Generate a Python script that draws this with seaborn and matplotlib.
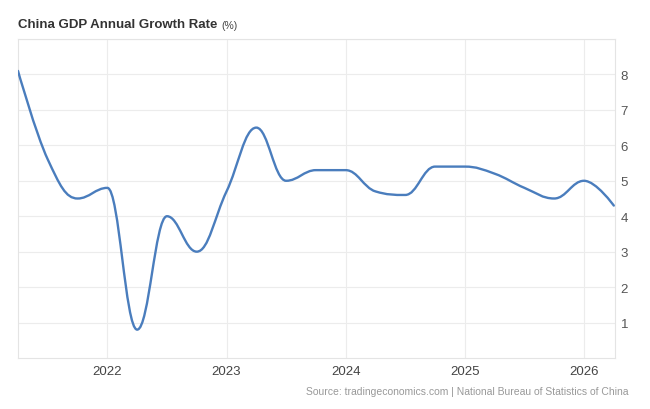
import numpy as np
import pandas as pd
import matplotlib
matplotlib.use('Agg')
import matplotlib.pyplot as plt
import seaborn as sns
from matplotlib.path import Path
from matplotlib.patches import PathPatch

# quarterly readings
quarters = ['2021Q2', '2021Q3', '2021Q4',
            '2022Q1', '2022Q2', '2022Q3', '2022Q4',
            '2023Q1', '2023Q2', '2023Q3', '2023Q4',
            '2024Q1', '2024Q2', '2024Q3', '2024Q4',
            '2025Q1', '2025Q2', '2025Q3', '2025Q4',
            '2026Q1', '2026Q2']
growth = [8.1, 5.6, 4.5,
          4.8, 0.8, 4.0, 3.0,
          4.7, 6.5, 5.0, 5.3,
          5.3, 4.7, 4.6, 5.4,
          5.4, 5.2, 4.8, 4.5,
          5.0, 4.3]
year_ticks = [2022, 2023, 2024, 2025, 2026]
value_ticks = [1, 2, 3, 4, 5, 6, 7, 8]

title = 'China GDP Annual Growth Rate'
unit = '(%)'
source = 'Source: tradingeconomics.com | National Bureau of Statistics of China'

df = pd.DataFrame({'quarter': quarters, 'growth': growth})
df['t'] = df.quarter.str[:4].astype(int) + (df.quarter.str[-1].astype(int) - 1) / 4


def spline_path(xs, ys, smoothing=1.5):
    # highcharts-like spline: bezier control points, no false extremes
    n = len(xs)
    verts = [(xs[0], ys[0])]
    codes = [Path.MOVETO]
    right_c = [None] * n
    denom = smoothing + 1
    for i in range(1, n):
        x, y = xs[i], ys[i]
        lx, ly = xs[i - 1], ys[i - 1]
        lcx, lcy = x, y
        if i < n - 1:
            nx, ny = xs[i + 1], ys[i + 1]
            lcx = (smoothing * x + lx) / denom
            lcy = (smoothing * y + ly) / denom
            rcx = (smoothing * x + nx) / denom
            rcy = (smoothing * y + ny) / denom
            corr = (rcy - lcy) * (rcx - x) / (rcx - lcx) + y - rcy
            lcy += corr
            rcy += corr
            if lcy > ly and lcy > y:
                lcy = max(ly, y)
                rcy = 2 * y - lcy
            elif lcy < ly and lcy < y:
                lcy = min(ly, y)
                rcy = 2 * y - lcy
            if rcy > ny and rcy > y:
                rcy = max(ny, y)
                lcy = 2 * y - rcy
            elif rcy < ny and rcy < y:
                rcy = min(ny, y)
                lcy = 2 * y - rcy
            right_c[i] = (rcx, rcy)
        prev_c = right_c[i - 1] if right_c[i - 1] is not None else (lx, ly)
        verts += [prev_c, (lcx, lcy), (x, y)]
        codes += [Path.CURVE4] * 3
    return Path(verts, codes)


sns.set_theme(style='white')
plt.rcParams['font.family'] = ['Liberation Sans', 'DejaVu Sans']

fig = plt.figure(figsize=(6.5, 4.1), dpi=100)
ax = fig.add_axes([18 / 650, 1 - 359 / 410, (615 - 18) / 650, (359 - 40) / 410])

path = spline_path(df.t.values, df.growth.values)
ax.add_patch(PathPatch(path, facecolor='none', edgecolor='#4a7dbd', lw=1.7,
                       capstyle='round', joinstyle='round', zorder=3))

ax.set_xlim(2021.25, 2026.26)
ax.set_ylim(0, 9)
ax.set_xticks(year_ticks)
ax.set_xticklabels([str(y) for y in year_ticks])
ax.set_yticks(value_ticks + [9])
ax.set_yticklabels([str(v) for v in value_ticks] + [''])
ax.yaxis.tick_right()
ax.tick_params(axis='x', length=0, pad=5, labelsize=9.5, labelcolor='#444444')
ax.tick_params(axis='y', length=0, pad=4, labelsize=9.5, labelcolor='#555555')
ax.grid(True, color='#ececec', lw=0.8)
ax.set_xlabel('')
ax.set_ylabel('')
for side, sp in ax.spines.items():
    sp.set_color('#e4e4e4')
    sp.set_linewidth(0.8)

t = fig.text(18 / 650, 1 - 25 / 410, title, fontsize=9.5, fontweight='bold',
             color='#333333', ha='left', va='center')
fig.canvas.draw()
bb = t.get_window_extent()
fig.text(bb.x1 / fig.bbox.width + 4 / 650, 1 - 26 / 410, unit, fontsize=7.5,
         color='#444444', ha='left', va='center')

fig.text(628 / 650, 1 - 392 / 410, source, fontsize=7.5, color='#999999',
         ha='right', va='center')

fig.savefig('out.png', dpi=100)
